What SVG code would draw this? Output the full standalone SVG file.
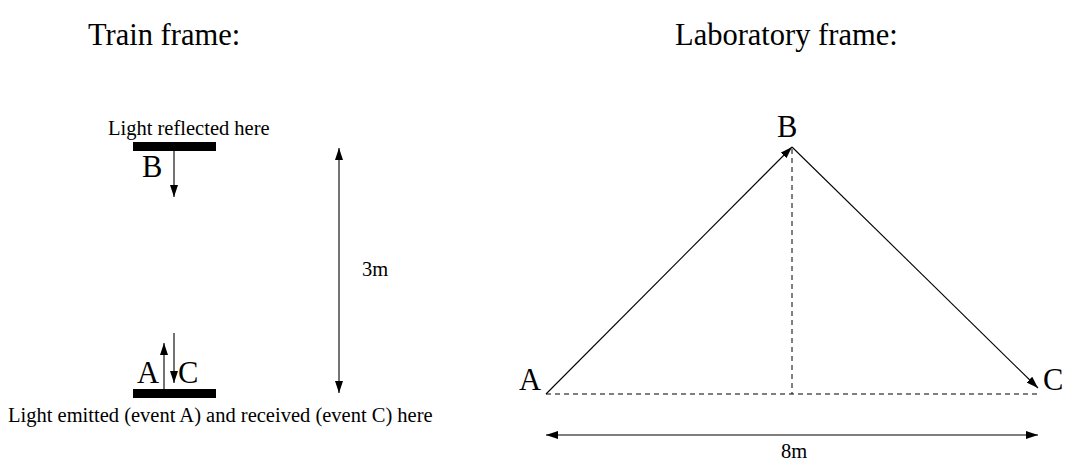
<svg xmlns="http://www.w3.org/2000/svg" width="1068" height="464" viewBox="0 0 1068 464">
<style>
text{font-family:"Liberation Serif","Times New Roman",serif;fill:#000}
.big{font-size:30.5px}
.small{font-size:20.5px}
.ln{stroke:#000;stroke-width:1.1;fill:none}
.dash{stroke:#000;stroke-width:1;fill:none;stroke-dasharray:5 4}
.bar{fill:#000}
</style>
<defs>
<marker id="ah" viewBox="0 0 12 8" refX="12" refY="4" markerWidth="12" markerHeight="8" markerUnits="userSpaceOnUse" orient="auto-start-reverse">
<path d="M0,0 L12,4 L0,8 Z" fill="#000"/>
</marker>
</defs>
<rect width="1068" height="464" fill="#fff"/>
<g id="titles">
<text class="big" x="88" y="45">Train frame:</text>
<text class="big" x="675" y="45">Laboratory frame:</text>
</g>
<g id="mirror-top">
<text class="small" x="108" y="135">Light reflected here</text>
<rect class="bar" x="133" y="142" width="83" height="9"/>
<text class="big" x="142" y="177">B</text>
</g>
<g id="mirror-bottom">
<rect class="bar" x="133" y="389" width="83" height="9"/>
<text class="big" x="137" y="383">A</text>
<text class="big" x="178" y="383">C</text>
<text class="small" x="8" y="422">Light emitted (event A) and received (event C) here</text>
</g>
<g id="lab-labels">
<text class="big" x="519" y="390">A</text>
<text class="big" x="777" y="137">B</text>
<text class="big" x="1043" y="390">C</text>
<text class="small" x="362" y="276">3m</text>
<text class="small" x="794" y="458" text-anchor="middle">8m</text>
</g>
<g id="connectors">
<line class="ln" x1="174" y1="151" x2="174" y2="197" marker-end="url(#ah)"/>
<line class="ln" x1="164" y1="389" x2="164" y2="343" marker-end="url(#ah)"/>
<line class="ln" x1="174" y1="333" x2="174" y2="383" marker-end="url(#ah)"/>
<line class="ln" x1="339" y1="148" x2="339" y2="393" marker-start="url(#ah)" marker-end="url(#ah)"/>
<line class="ln" x1="546" y1="394" x2="792" y2="147" marker-end="url(#ah)"/>
<line class="ln" x1="792" y1="147" x2="1038" y2="388" marker-end="url(#ah)"/>
<line class="dash" x1="546" y1="394" x2="1037" y2="394"/>
<line class="dash" x1="792" y1="149" x2="792" y2="394"/>
<line class="ln" x1="546" y1="435" x2="1038" y2="435" stroke-width="1.3" marker-start="url(#ah)" marker-end="url(#ah)"/>
</g>
</svg>
